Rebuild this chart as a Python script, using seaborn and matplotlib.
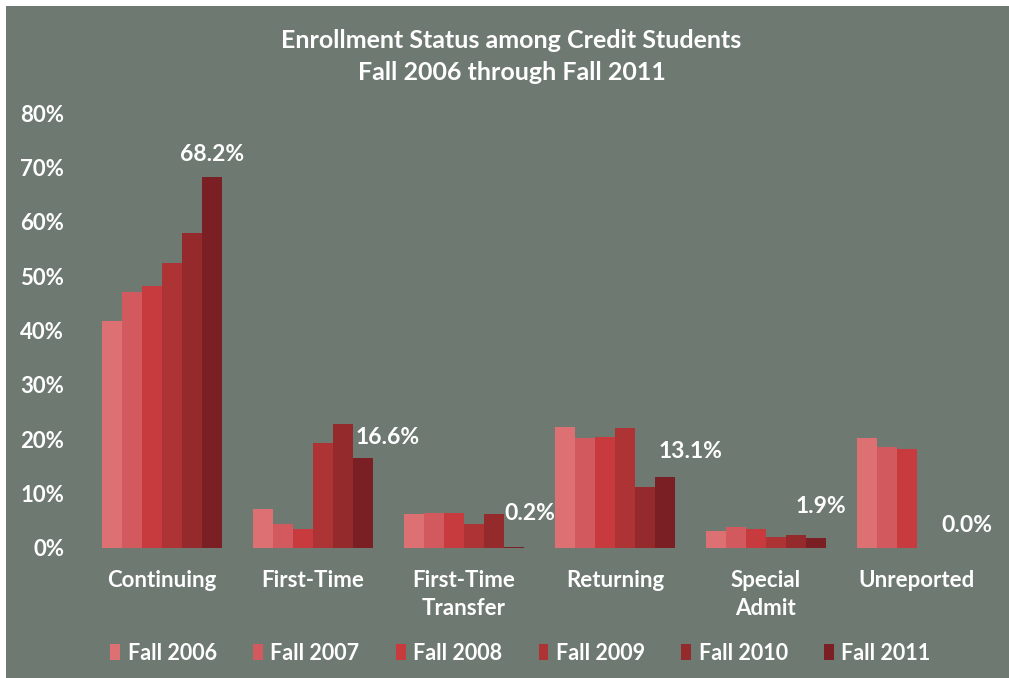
import matplotlib
matplotlib.use("Agg")
import matplotlib.pyplot as plt
from matplotlib.patches import Rectangle
from matplotlib.ticker import FuncFormatter
import seaborn as sns
import pandas as pd

# Enrollment share (%) by status and fall term
categories = ["Continuing", "First-Time", "First-Time\nTransfer", "Returning",
              "Special\nAdmit", "Unreported"]
terms = ["Fall 2006", "Fall 2007", "Fall 2008", "Fall 2009", "Fall 2010", "Fall 2011"]
fall_2006 = [41.7, 7.1, 6.2, 22.3, 3.2, 20.2]
fall_2007 = [47.0, 4.5, 6.4, 20.2, 3.8, 18.5]
fall_2008 = [48.1, 3.5, 6.4, 20.5, 3.5, 18.2]
fall_2009 = [52.4, 19.3, 4.4, 22.0, 2.1, 0.0]
fall_2010 = [58.0, 22.8, 6.2, 11.2, 2.3, 0.0]
fall_2011 = [68.2, 16.6, 0.2, 13.1, 1.9, 0.0]
yticks = [0, 10, 20, 30, 40, 50, 60, 70, 80]

series = [fall_2006, fall_2007, fall_2008, fall_2009, fall_2010, fall_2011]
df = pd.DataFrame(
    [(cat, term, val) for term, vals in zip(terms, series) for cat, val in zip(categories, vals)],
    columns=["status", "term", "pct"],
)

palette = ["#dc7072", "#d25a5e", "#c73a3d", "#ad3334", "#942a2c", "#7a1f23"]
bg = "#6e7971"
font = ["Lato", "DejaVu Sans"]

sns.set_theme(style="white")
plt.rcParams["font.family"] = font
plt.rcParams["font.weight"] = "bold"

W, H = 1009, 678
fig = plt.figure(figsize=(W / 100, H / 100), dpi=100, facecolor="white")
fig.patches.append(Rectangle((6 / W, 0), 1 - 6 / W, 1 - 6 / H, transform=fig.transFigure,
                             facecolor=bg, edgecolor="none", zorder=-10))

ax = fig.add_axes([86.5 / W, (H - 548) / H, 906 / W, 435 / H])
ax.set_facecolor("none")
ax.set_zorder(1)

sns.barplot(data=df, x="status", y="pct", hue="term", hue_order=terms,
            order=categories, palette=palette, width=0.8, saturation=1,
            linewidth=0, ax=ax, legend=True)

ax.set_ylim(0, 80)
ax.set_xlim(-0.5, 5.5)
ax.set_yticks(yticks)
ax.yaxis.set_major_formatter(FuncFormatter(lambda v, _: f"{v:.0f}%"))
ax.tick_params(axis="y", length=0, pad=16, labelsize=16, labelcolor="white")
ax.tick_params(axis="x", length=0, pad=16, labelsize=16, labelcolor="white")
for lbl in ax.get_xticklabels() + ax.get_yticklabels():
    lbl.set_fontweight("bold")
for lbl in ax.get_xticklabels():
    lbl.set_linespacing(1.4)
ax.set_xlabel("")
ax.set_ylabel("")
for s in ax.spines.values():
    s.set_visible(False)

# Value labels for the latest term
label_nudge = [(0, 4.1), (24, 3.8), (15, 6.1), (25, 4.6), (5, 5.8), (0, 4.2)]
last = ax.containers[-1]
for bar, val, (dx, dy) in zip(last, fall_2011, label_nudge):
    cx = bar.get_x() + bar.get_width() / 2
    x_px = ax.transData.transform((cx, 0))[0] + dx
    x_data = ax.transData.inverted().transform((x_px, 0))[0]
    ax.text(x_data, val + dy, f"{val:.1f}%", ha="center", va="center",
            color="white", fontsize=16.5, fontweight="bold")

leg = ax.legend(loc="center", bbox_to_anchor=(0.479, (H - 653 - (H - 548)) / 435),
                ncol=6, frameon=False, fontsize=15.5, handlelength=0.45, handleheight=0.8,
                handletextpad=0.35, columnspacing=1.69)
for t in leg.get_texts():
    t.set_color("white")
    t.set_fontweight("bold")

fig.text(0.507, 1 - 40 / H, "Enrollment Status among Credit Students", ha="center",
         va="center", color="white", fontsize=18, fontweight="bold")
fig.text(0.507, 1 - 72 / H, "Fall 2006 through Fall 2011", ha="center",
         va="center", color="white", fontsize=18, fontweight="bold")

fig.savefig("out.png", dpi=100, facecolor="white")
